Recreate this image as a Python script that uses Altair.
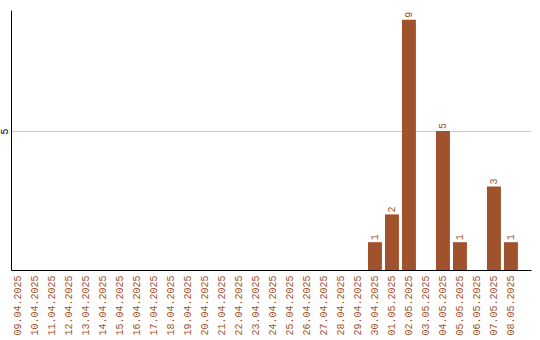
import altair as alt
import pandas as pd

dates = ["09.04.2025", "10.04.2025", "11.04.2025", "12.04.2025", "13.04.2025",
         "14.04.2025", "15.04.2025", "16.04.2025", "17.04.2025", "18.04.2025",
         "19.04.2025", "20.04.2025", "21.04.2025", "22.04.2025", "23.04.2025",
         "24.04.2025", "25.04.2025", "26.04.2025", "27.04.2025", "28.04.2025",
         "29.04.2025", "30.04.2025", "01.05.2025", "02.05.2025", "03.05.2025",
         "04.05.2025", "05.05.2025", "06.05.2025", "07.05.2025", "08.05.2025"]
counts = [0, 0, 0, 0, 0, 0, 0, 0, 0, 0,
          0, 0, 0, 0, 0, 0, 0, 0, 0, 0,
          0, 1, 2, 9, 0, 5, 1, 0, 3, 1]

df = pd.DataFrame({"date": dates, "count": counts})

BROWN = "#a0522d"
FONT = "Liberation Mono"

x = alt.X("date:N", sort=dates, title=None,
          scale=alt.Scale(paddingInner=0.18, paddingOuter=0.385, align=0),
          axis=alt.Axis(labelAngle=270, labelColor=BROWN, labelFont=FONT,
                        labelFontSize=10, ticks=False, domainColor="black",
                        labelPadding=5))
y = alt.Y("count:Q", title=None,
          scale=alt.Scale(domain=[0, 9.35], nice=False),
          axis=alt.Axis(values=[5], labelAngle=270, labelFont=FONT, labelFontSize=10,
                        labelColor="black", ticks=False, domainColor="black",
                        gridColor="#cccccc", labelPadding=2,
                        labelAlign="center", labelBaseline="bottom"))

bars = alt.Chart(df).mark_bar(color=BROWN).encode(x=x, y=y)
text = alt.Chart(df).transform_filter("datum.count > 0").mark_text(
    angle=270, align="left", baseline="middle", dx=2,
    color=BROWN, font=FONT, fontSize=10
).encode(x=alt.X("date:N", sort=dates), y="count:Q", text="count:Q")

chart = (bars + text).properties(
    width=520, height=260,
    autosize=alt.AutoSizeParams(type="none"),
    padding={"left": 11, "top": 10, "right": 9, "bottom": 70},
).configure_view(stroke=None).configure_axisX(grid=False)

chart.save("out.html", embed_options={"renderer": "svg", "actions": False})
